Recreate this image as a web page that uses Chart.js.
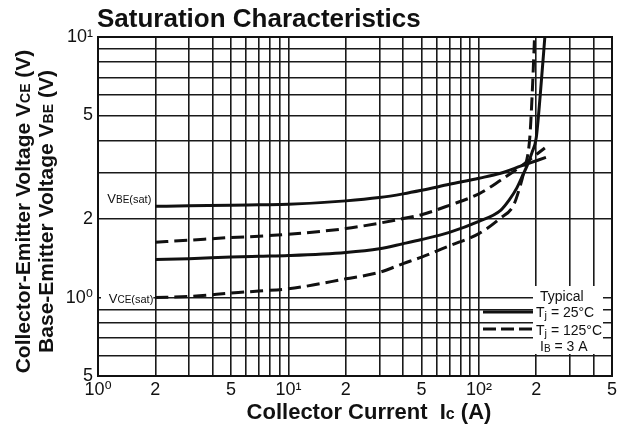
<!DOCTYPE html>
<html>
<head>
<meta charset="utf-8">
<script src="https://cdn.jsdelivr.net/npm/chart.js@4/dist/chart.umd.min.js"></script>
<style>
  html, body { margin: 0; padding: 0; background: #fff; }
</style>
</head>
<body>
<canvas id="satChart" width="623" height="431"></canvas>
<script>
// collector current (A) and voltage (V)
var vbe25Ic  = [2, 3, 5, 7, 10, 20, 30, 40, 50, 70, 100, 130, 167, 225];
var vbe25V   = [2.24, 2.25, 2.26, 2.27, 2.28, 2.35, 2.42, 2.50, 2.58, 2.72, 2.87, 3.00, 3.20, 3.45];
var vbe125Ic = [2, 3, 5, 7, 10, 20, 30, 40, 50, 70, 100, 130, 167, 222];
var vbe125V  = [1.63, 1.66, 1.70, 1.72, 1.75, 1.84, 1.93, 2.01, 2.08, 2.26, 2.50, 2.82, 3.20, 3.75];
var vce25Ic  = [2, 3, 5, 7, 10, 20, 30, 40, 50, 70, 100, 130, 145, 158, 170, 179, 190, 200, 210, 222];
var vce25V   = [1.40, 1.41, 1.43, 1.44, 1.45, 1.49, 1.54, 1.61, 1.67, 1.78, 1.96, 2.16, 2.38, 2.63, 2.95, 3.20, 3.60, 4.10, 6.00, 10.0];
var vce125Ic = [2, 3, 5, 7, 10, 20, 30, 40, 50, 70, 100, 129, 152, 164, 173, 185, 191, 196];
var vce125V  = [1.00, 1.01, 1.04, 1.06, 1.08, 1.18, 1.25, 1.35, 1.43, 1.58, 1.76, 2.01, 2.26, 2.65, 3.08, 4.10, 6.30, 10.0];

// grid lines and tick labels
var xGrid = [1,2,3,4,5,6,7,8,9,10,20,30,40,50,60,70,80,90,100,200,300,400,500];
var xTickValues = [1, 2, 5, 10, 20, 50, 100, 200, 500];
var xTickLabels = ['10\u2070', '2', '5', '10\u00b9', '2', '5', '10\u00b2', '2', '5'];
var yGrid = [0.5,0.6,0.7,0.8,0.9,1,2,3,4,5,6,7,8,9,10];
var yTickValues = [0.5, 1, 2, 5, 10];
var yTickLabels = ['5', '10\u2070', '2', '5', '10\u00b9'];

var FONT = '"Liberation Sans", Arial, "DejaVu Sans", sans-serif';

function pts(xs, ys) {
  return xs.map(function (x, i) { return { x: x, y: ys[i] }; });
}

// draw a row of text pieces with different sizes (for subscripts)
function drawRuns(ctx, runs, x, y, align) {
  var total = 0;
  runs.forEach(function (r) {
    ctx.font = (r.bold ? 'bold ' : '') + r.size + 'px ' + FONT;
    r.w = ctx.measureText(r.t).width;
    total += r.w;
  });
  var cx = align === 'center' ? x - total / 2 : (align === 'right' ? x - total : x);
  ctx.textAlign = 'left';
  ctx.textBaseline = 'alphabetic';
  runs.forEach(function (r) {
    ctx.font = (r.bold ? 'bold ' : '') + r.size + 'px ' + FONT;
    ctx.fillText(r.t, cx, y + (r.dy || 0));
    cx += r.w;
  });
  return total;
}

var decorations = {
  id: 'decorations',
  afterDatasetsDraw: function (chart) {
    var ctx = chart.ctx, a = chart.chartArea;
    var xs = chart.scales.x, ys = chart.scales.y;
    ctx.save();
    ctx.fillStyle = '#111';
    ctx.strokeStyle = '#111';

    // frame
    ctx.lineWidth = 2;
    ctx.strokeRect(a.left, a.top, a.right - a.left, a.bottom - a.top);

    // title
    drawRuns(ctx, [{ t: 'Saturation Characteristics', size: 26, bold: true }], a.left - 1, 27, 'left');

    // y axis title, two lines
    ctx.save();
    ctx.translate(22, (a.top + a.bottom) / 2 + 5);
    ctx.rotate(-Math.PI / 2);
    drawRuns(ctx, [
      { t: 'Collector-Emitter Voltage V', size: 21, bold: true },
      { t: 'CE', size: 14, bold: true },
      { t: ' (V)', size: 21, bold: true }
    ], 0, 8, 'center');
    ctx.restore();
    ctx.save();
    ctx.translate(45, (a.top + a.bottom) / 2 + 5);
    ctx.rotate(-Math.PI / 2);
    drawRuns(ctx, [
      { t: 'Base-Emitter Voltage V', size: 21, bold: true },
      { t: 'BE', size: 14, bold: true },
      { t: ' (V)', size: 21, bold: true }
    ], 0, 8, 'center');
    ctx.restore();

    // x axis title
    drawRuns(ctx, [
      { t: 'Collector Current  I', size: 22, bold: true },
      { t: 'c', size: 16, bold: true },
      { t: ' (A)', size: 22, bold: true }
    ], (a.left + a.right) / 2 + 14, 419, 'center');

    // curve labels at the left end of the curves
    var lx = xs.getPixelForValue(vbe25Ic[0]);
    ctx.fillStyle = '#fff';
    ctx.fillRect(a.left + 3, ys.getPixelForValue(vbe25V[0]) - 15, lx - a.left - 5, 14);
    ctx.fillRect(a.left + 3, ys.getPixelForValue(vce125V[0]) - 7, lx - a.left - 5, 14);
    ctx.fillStyle = '#111';
    drawRuns(ctx, [
      { t: 'V', size: 13 }, { t: 'BE', size: 10 }, { t: '(sat)', size: 11 }
    ], lx - 4, ys.getPixelForValue(vbe25V[0]) - 3, 'right');
    drawRuns(ctx, [
      { t: 'V', size: 13 }, { t: 'CE', size: 10 }, { t: '(sat)', size: 11 }
    ], lx - 2, ys.getPixelForValue(vce125V[0]) + 5, 'right');

    // legend inside the plot
    var gx = a.right - 77, gy = a.bottom - 90;
    ctx.fillStyle = '#fff';
    ctx.fillRect(gx - 2, gy, 70, 68);
    ctx.fillStyle = '#111';
    drawRuns(ctx, [{ t: 'Typical', size: 14 }], gx + 5, gy + 15, 'left');
    drawRuns(ctx, [{ t: 'T', size: 14 }, { t: 'j', size: 11, dy: 2 }, { t: ' = 25\u00b0C', size: 14 }], gx + 1, gy + 31, 'left');
    drawRuns(ctx, [{ t: 'T', size: 14 }, { t: 'j', size: 11, dy: 2 }, { t: ' = 125\u00b0C', size: 14 }], gx + 1, gy + 49, 'left');
    drawRuns(ctx, [{ t: 'I', size: 14 }, { t: 'B', size: 10, dy: 1 }, { t: ' = 3 A', size: 14 }], gx + 5, gy + 65, 'left');
    ctx.lineWidth = 3;
    ctx.beginPath();
    ctx.moveTo(gx - 52, gy + 26); ctx.lineTo(gx - 2, gy + 26);
    ctx.stroke();
    ctx.setLineDash([13, 5]);
    ctx.beginPath();
    ctx.moveTo(gx - 52, gy + 43); ctx.lineTo(gx - 2, gy + 43);
    ctx.stroke();
    ctx.restore();
  }
};

function lineSet(label, xs, ys, dashed) {
  return {
    label: label,
    data: pts(xs, ys),
    borderColor: '#111',
    borderWidth: 3,
    borderDash: dashed ? [13, 6] : [],
    pointRadius: 0,
    fill: false,
    cubicInterpolationMode: 'monotone'
  };
}

var ctx = document.getElementById('satChart');
var satChart = new Chart(ctx, {
  type: 'line',
  data: {
    datasets: [
      lineSet('VBE(sat) Tj=25\u00b0C', vbe25Ic, vbe25V, false),
      lineSet('VBE(sat) Tj=125\u00b0C', vbe125Ic, vbe125V, true),
      lineSet('VCE(sat) Tj=25\u00b0C', vce25Ic, vce25V, false),
      lineSet('VCE(sat) Tj=125\u00b0C', vce125Ic, vce125V, true)
    ]
  },
  options: {
    responsive: false,
    devicePixelRatio: 1,
    animation: false,
    clip: 2,
    layout: { padding: { left: 58, right: 11, top: 37, bottom: 25 } },
    plugins: { legend: { display: false }, tooltip: { enabled: false } },
    scales: {
      x: {
        type: 'logarithmic',
        min: 1,
        max: 500,
        afterBuildTicks: function (s) { s.ticks = xGrid.map(function (v) { return { value: v }; }); },
        afterFit: function (s) { s.height = 30; },
        border: { display: false },
        grid: { color: '#1a1a1a', lineWidth: 1.6, drawTicks: false },
        ticks: {
          autoSkip: false,
          maxRotation: 0,
          padding: 3,
          color: '#111',
          font: { size: 18, family: FONT },
          callback: function (v) {
            var i = xTickValues.indexOf(v);
            return i < 0 ? '' : xTickLabels[i];
          }
        }
      },
      y: {
        type: 'logarithmic',
        min: 0.5,
        max: 10,
        afterBuildTicks: function (s) { s.ticks = yGrid.map(function (v) { return { value: v }; }); },
        afterFit: function (s) { s.width = 40; },
        border: { display: false },
        grid: { color: '#1a1a1a', lineWidth: 1.6, drawTicks: false },
        ticks: {
          autoSkip: false,
          padding: 5,
          color: '#111',
          font: { size: 18, family: FONT },
          callback: function (v) {
            var i = yTickValues.indexOf(v);
            return i < 0 ? '' : yTickLabels[i];
          }
        }
      }
    }
  },
  plugins: [decorations]
});
</script>
</body>
</html>
